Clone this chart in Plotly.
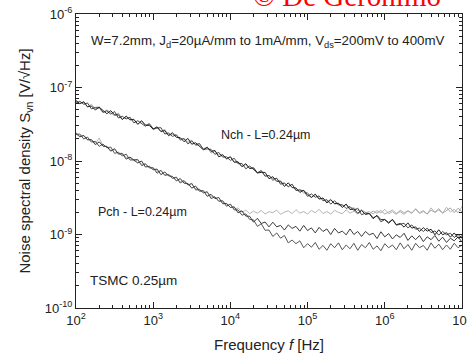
import plotly.graph_objects as go

# Frequency grid [Hz]
freq = [100, 112, 126, 141, 158, 178, 200, 224, 251, 282,
        316, 355, 398, 447, 501, 562, 631, 708, 794, 891,
        1000, 1122, 1259, 1413, 1585, 1778, 1995, 2239, 2512, 2818,
        3162, 3548, 3981, 4467, 5012, 5623, 6310, 7079, 7943, 8913,
        10000, 11220, 12589, 14125, 15849, 17783, 19953, 22387, 25119, 28184,
        31623, 35481, 39811, 44668, 50119, 56234, 63096, 70795, 79433, 89125,
        100000, 112202, 125893, 141254, 158489, 177828, 199526, 223872, 251189, 281838,
        316228, 354813, 398107, 446684, 501187, 562341, 630957, 707946, 794328, 891251,
        1000000, 1122018, 1258925, 1412538, 1584893, 1778279, 1995262, 2238721, 2511886, 2818383,
        3162278, 3548134, 3981072, 4466836, 5011872, 5623413, 6309573, 7079458, 7943282, 8912509,
        10000000]

# Noise spectral density in nV/sqrt(Hz)
nch_1 = [66.5, 60.5, 63.9, 54.7, 56.1, 49.4, 53.9, 48.5, 44.0, 48.4,
         42.3, 42.5, 36.6, 40.8, 36.5, 36.9, 31.5, 35.3, 30.7, 30.5,
         27.1, 29.2, 25.2, 25.9, 22.1, 24.3, 21.0, 20.8, 18.3, 20.3,
         16.9, 17.7, 15.7, 14.2, 15.4, 13.5, 13.9, 11.4, 12.1, 10.8,
         11.4, 9.6, 9.74, 8.37, 9.19, 7.89, 8.07, 6.89, 6.99, 6.99,
         5.74, 6.12, 5.28, 5.35, 4.51, 5.05, 4.34, 4.30, 3.74, 3.99,
         3.51, 3.19, 3.54, 3.03, 3.14, 2.69, 2.96, 2.64, 2.65, 2.33,
         2.59, 2.18, 2.23, 1.94, 2.12, 1.87, 1.93, 1.64, 1.82, 1.59,
         1.60, 1.42, 1.60, 1.36, 1.41, 1.26, 1.44, 1.22, 1.27, 1.10,
         1.24, 1.11, 1.18, 0.99, 1.16, 0.99, 1.06, 0.92, 1.05, 0.89,
         0.96]
nch_2 = [61.4, 64.9, 59.1, 61.6, 51.2, 53.6, 53.9, 46.1, 48.2, 43.4,
         47.1, 38.4, 40.6, 37.3, 39.4, 33.0, 35.3, 32.4, 29.7, 32.3,
         27.6, 28.1, 28.4, 23.3, 24.0, 21.6, 22.7, 19.8, 20.1, 17.1,
         18.7, 16.7, 17.3, 14.4, 14.6, 14.4, 12.3, 13.1, 11.3, 11.4,
         10.2, 10.9, 9.17, 9.27, 7.83, 8.54, 7.68, 6.89, 7.40, 6.20,
         6.36, 5.66, 5.83, 4.83, 5.00, 4.49, 4.83, 3.97, 4.02, 3.95,
         3.30, 3.57, 3.21, 3.35, 2.87, 2.98, 2.59, 2.88, 2.52, 2.55,
         2.26, 2.40, 2.12, 2.28, 1.86, 1.95, 1.93, 1.69, 1.80, 1.49,
         1.60, 1.46, 1.60, 1.34, 1.38, 1.42, 1.23, 1.35, 1.18, 1.22,
         1.10, 1.22, 1.06, 1.12, 0.98, 1.10, 0.99, 1.04, 0.91, 1.00,
         0.89]
nch_3 = [65.9, 59.9, 63.3, 54.1, 58.9, 51.5, 52.8, 45.1, 49.6, 44.7,
         41.4, 45.0, 37.0, 40.0, 36.1, 36.2, 31.9, 34.7, 31.0, 31.7,
         26.5, 28.3, 25.2, 26.9, 22.6, 22.9, 22.5, 19.0, 20.3, 18.0,
         19.2, 16.2, 16.5, 14.7, 15.4, 12.8, 13.6, 12.2, 12.3, 10.5,
         11.4, 9.7, 9.74, 8.37, 8.94, 7.97, 8.07, 6.89, 7.40, 6.27,
         6.36, 5.36, 5.83, 5.03, 5.00, 4.45, 4.83, 3.97, 4.10, 3.65,
         3.73, 3.19, 3.51, 3.10, 3.08, 2.77, 3.02, 2.58, 2.67, 2.46,
         2.54, 2.29, 2.30, 2.13, 2.14, 2.01, 1.92, 2.08, 1.95, 2.12,
         1.90, 2.02, 2.15, 1.93, 2.05, 1.88, 2.10, 1.97, 2.20, 1.94,
         2.06, 1.90, 2.14, 2.00, 2.25, 1.95, 2.10, 2.30, 1.98, 2.28,
         2.05]
pch_1 = [23.7, 21.3, 22.3, 19.4, 19.5, 16.7, 18.2, 15.9, 15.7, 13.6,
         14.7, 12.4, 12.6, 10.6, 11.3, 10.2, 9.4, 10.0, 8.27, 8.47,
         7.61, 7.77, 6.51, 7.10, 6.27, 6.18, 5.36, 5.78, 4.99, 4.95,
         4.28, 4.56, 3.88, 3.95, 3.31, 3.52, 3.07, 3.19, 2.62, 2.65,
         2.33, 2.38, 1.97, 2.10, 1.78, 1.77, 1.47, 1.66, 1.41, 1.48,
         1.27, 1.47, 1.27, 1.33, 1.15, 1.35, 1.21, 1.29, 1.11, 1.33,
         1.13, 1.23, 1.05, 1.25, 1.10, 1.19, 1.00, 1.21, 1.05, 1.11,
         0.99, 1.19, 1.00, 1.10, 0.94, 1.10, 0.99, 1.04, 0.88, 1.09,
         0.93, 1.03, 0.87, 0.99, 0.91, 1.04, 0.83, 0.96, 0.85, 0.97,
         0.80, 0.93, 0.85, 0.97, 0.81, 0.92, 0.78, 0.89, 0.82, 0.93,
         0.79]
pch_2 = [23.0, 23.3, 19.9, 21.2, 18.1, 18.5, 15.8, 17.0, 15.1, 15.5,
         12.7, 13.2, 11.7, 12.4, 10.3, 10.4, 10.5, 8.65, 9.15, 8.05,
         8.09, 6.81, 7.49, 6.37, 6.53, 5.82, 6.04, 5.02, 5.41, 4.70,
         4.97, 4.04, 4.08, 3.69, 3.82, 3.08, 3.26, 2.83, 2.87, 2.42,
         2.60, 2.16, 2.16, 1.83, 1.91, 1.60, 1.58, 1.29, 1.40, 1.14,
         1.15, 0.94, 1.05, 0.89, 0.97, 0.77, 0.84, 0.75, 0.82, 0.66,
         0.75, 0.67, 0.78, 0.63, 0.71, 0.61, 0.75, 0.66, 0.77, 0.62,
         0.72, 0.64, 0.76, 0.61, 0.73, 0.66, 0.78, 0.63, 0.70, 0.60,
         0.75, 0.66, 0.72, 0.62, 0.77, 0.64, 0.73, 0.61, 0.76, 0.66,
         0.71, 0.61, 0.77, 0.65, 0.74, 0.62, 0.72, 0.63, 0.76, 0.66,
         0.72]
pch_3 = [24.2, 22.0, 21.8, 19.5, 19.6, 17.4, 20.5, 16.0, 16.0, 14.0,
         14.2, 12.6, 12.8, 11.2, 11.1, 10.0, 10.2, 9.0, 9.2, 8.1,
         8.1, 7.2, 7.3, 6.5, 6.6, 5.8, 5.9, 5.2, 5.4, 4.75,
         4.8, 4.2, 4.15, 3.7, 3.75, 3.25, 3.25, 2.85, 2.9, 2.5,
         2.55, 2.2, 2.3, 2.0, 2.15, 1.92, 2.08, 1.95, 2.12, 1.90,
         2.05, 1.98, 2.15, 1.88, 2.02, 2.10, 1.92, 2.18, 1.95, 2.05,
         1.90, 2.12, 1.98, 2.20, 1.93, 2.06, 1.90, 2.14, 2.00, 1.92,
         2.16, 1.95, 2.08, 1.90, 2.18, 1.97, 2.05, 1.90, 2.12, 1.96,
         2.20, 1.92, 2.04, 1.88, 2.15, 1.98, 2.10, 1.93, 2.25, 1.97,
         2.12, 1.90, 2.30, 2.00, 2.15, 1.95, 2.35, 2.02, 2.20, 1.98,
         2.40]

series = [
    (pch_3, "#b4b4b4"),
    (nch_3, "#a8a8a8"),
    (pch_2, "#555555"),
    (pch_1, "#3a3a3a"),
    (nch_2, "#484848"),
    (nch_1, "#222222"),
]

x_tickvals = [1e2, 1e3, 1e4, 1e5, 1e6, 1e7]
x_ticktext = ["10<sup>2</sup>", "10<sup>3</sup>", "10<sup>4</sup>",
              "10<sup>5</sup>", "10<sup>6</sup>", "10<sup>7</sup>"]
y_tickvals = [0.1, 1, 10, 100, 1000]
y_ticktext = ["10<sup>-10</sup>", "10<sup>-9</sup>", "10<sup>-8</sup>",
              "10<sup>-7</sup>", "10<sup>-6</sup>"]

fig = go.Figure()
for vals, col in series:
    fig.add_trace(go.Scatter(x=freq, y=vals, mode="lines",
                             line=dict(color=col, width=1), showlegend=False))

font_main = "Arial, Liberation Sans, sans-serif"
x_minor = [m * 10 ** e for e in range(2, 7) for m in range(2, 10)]
y_minor = [m * 10 ** e for e in range(-1, 3) for m in range(2, 10)]

axis_common = dict(type="log", showgrid=False, zeroline=False,
                   showline=True, linecolor="#222", linewidth=1.2,
                   mirror="allticks", ticks="inside", ticklen=6,
                   ticklabeloverflow="allow", automargin=False,
                   tickcolor="#222", tickfont=dict(size=13, color="#222", family=font_main))

fig.update_xaxes(**axis_common, range=[2, 7.0008], tickmode="array",
                 tickvals=x_tickvals, ticktext=x_ticktext,
                 minor=dict(ticks="inside", ticklen=3, tickcolor="#222",
                            tickmode="array", tickvals=x_minor),
                 title=dict(text="Frequency <i>f</i> [Hz]", standoff=12,
                            font=dict(size=15, color="#222", family=font_main)))
fig.update_yaxes(**axis_common, range=[-1, 3], tickmode="array",
                 tickvals=y_tickvals, ticktext=y_ticktext,
                 minor=dict(ticks="inside", ticklen=3, tickcolor="#222",
                            tickmode="array", tickvals=y_minor),
                 title=dict(text="Noise spectral density S<sub>vn</sub> [V/\u221aHz]", standoff=10,
                            font=dict(size=15, color="#222", family=font_main)))

fig.add_annotation(xref="paper", yref="paper", x=0.497, y=0.905, showarrow=False,
                   text="W=7.2mm, J<sub>d</sub>=20\u00b5A/mm to 1mA/mm, V<sub>ds</sub>=200mV to 400mV",
                   font=dict(size=13.3, color="#222", family=font_main),
                   xanchor="center", yanchor="middle")
fig.add_annotation(xref="paper", yref="paper", x=0.370, y=0.588, showarrow=False,
                   text="Nch - L=0.24\u00b5m", font=dict(size=12.5, color="#222", family=font_main),
                   xanchor="left", yanchor="middle")
fig.add_annotation(xref="paper", yref="paper", x=0.052, y=0.327, showarrow=False,
                   text="Pch - L=0.24\u00b5m", font=dict(size=12.5, color="#222", family=font_main),
                   xanchor="left", yanchor="middle")
fig.add_annotation(xref="paper", yref="paper", x=0.031, y=0.095, showarrow=False,
                   text="TSMC 0.25\u00b5m", font=dict(size=13.5, color="#222", family=font_main),
                   xanchor="left", yanchor="middle")
fig.add_annotation(xref="paper", yref="paper", x=0.702, y=1.0, showarrow=False,
                   text="\u00a9 De Geronimo",
                   font=dict(size=29, color="#ff0000", family="Liberation Serif, Times New Roman, serif"),
                   xanchor="center", yanchor="bottom")

fig.update_layout(width=467, height=358, margin=dict(l=76, r=5, t=14, b=50),
                  paper_bgcolor="white", plot_bgcolor="white")

fig.write_html("out.html")
